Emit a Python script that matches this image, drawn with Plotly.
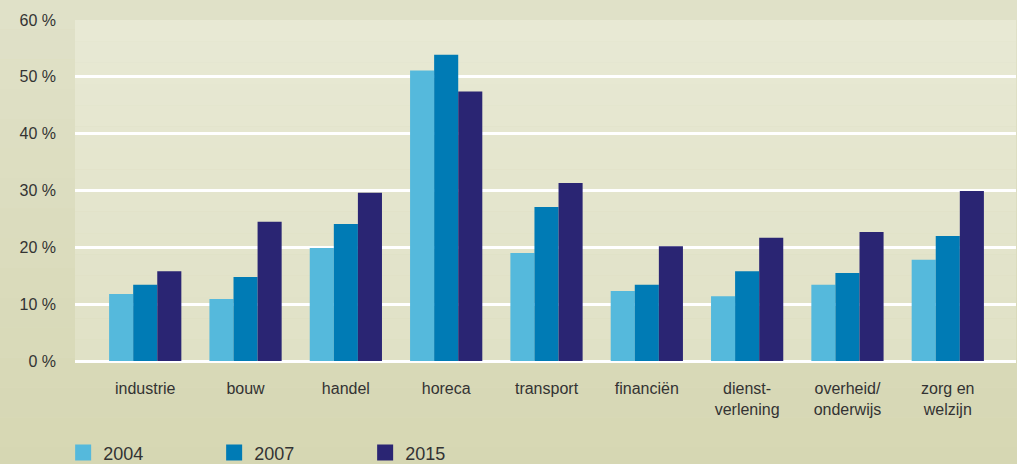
import plotly.graph_objects as go

categories = ["industrie", "bouw", "handel", "horeca", "transport", "financiën",
              "dienst-<br>verlening", "overheid/<br>onderwijs", "zorg en<br>welzijn"]
years = ["2004", "2007", "2015"]
v2004 = [11.8, 10.9, 19.9, 51.1, 19.0, 12.3, 11.4, 13.4, 17.8]
v2007 = [13.4, 14.8, 24.1, 53.9, 27.1, 13.4, 15.8, 15.5, 22.0]
v2015 = [15.8, 24.5, 29.6, 47.4, 31.3, 20.2, 21.7, 22.7, 29.9]
yticks = [0, 10, 20, 30, 40, 50, 60]
yticklabels = [f"{t} %" for t in yticks]

colors = ["#55b9dc", "#007bb5", "#2a2573"]
series = [v2004, v2007, v2015]

fig = go.Figure()
for name, vals, col in zip(years, series, colors):
    fig.add_trace(go.Bar(x=categories, y=vals, name=name, marker_color=col,
                         marker_line_width=0, showlegend=False))
for name, col in zip(years, colors):
    fig.add_trace(go.Scatter(x=[None], y=[None], mode="markers", name=name,
                             marker=dict(symbol="square", size=19, color=col),
                             showlegend=True))

def lerp(c1, c2, t):
    return "rgb(%d,%d,%d)" % tuple(round(a + (b - a) * t) for a, b in zip(c1, c2))

shapes = []
n = 16
top_p, bot_p = (224, 225, 200), (214, 215, 179)
for i in range(n):
    shapes.append(dict(type="rect", xref="paper", yref="paper", layer="below",
                       x0=-1, x1=2, y0=1.06 - (i + 1) * (1.4 / n), y1=1.06 - i * (1.4 / n),
                       fillcolor=lerp(top_p, bot_p, i / (n - 1)), line_width=0))
top_a, bot_a = (232, 233, 212), (224, 225, 198)
for i in range(n):
    shapes.append(dict(type="rect", xref="x domain", yref="y domain", layer="below",
                       x0=0, x1=1, y0=1 - (i + 1) / n, y1=1 - i / n,
                       fillcolor=lerp(top_a, bot_a, i / (n - 1)), line_width=0))

fig.update_layout(
    width=1017, height=464,
    margin=dict(l=75, r=1, t=20, b=103, autoexpand=False),
    paper_bgcolor="#dcddbe",
    plot_bgcolor="rgba(0,0,0,0)",
    barmode="group", bargap=0.28, bargroupgap=0,
    font=dict(family="Liberation Sans, Arial, sans-serif", color="#333333", size=16),
    shapes=shapes,
    xaxis=dict(range=[-0.7, 8.68], showgrid=False, zeroline=False, showline=False,
               ticks="", tickfont=dict(size=16), ticklabelstandoff=16),
    yaxis=dict(range=[0, 60], tickvals=yticks, ticktext=yticklabels,
               showgrid=True, gridcolor="#ffffff", gridwidth=2.5,
               zeroline=True, zerolinecolor="#ffffff", zerolinewidth=2.5,
               showline=False, ticks="", tickfont=dict(size=16), ticklabelstandoff=18),
    legend=dict(orientation="h", x=-0.0126, xanchor="left",
                yref="container", y=0.024, yanchor="middle",
                font=dict(size=18), entrywidth=106, entrywidthmode="pixels",
                bgcolor="rgba(0,0,0,0)", itemsizing="trace"),
)

fig.write_html("out.html", config={"displayModeBar": False},
               post_script="document.body.style.margin='0';document.body.style.overflow='hidden';")
